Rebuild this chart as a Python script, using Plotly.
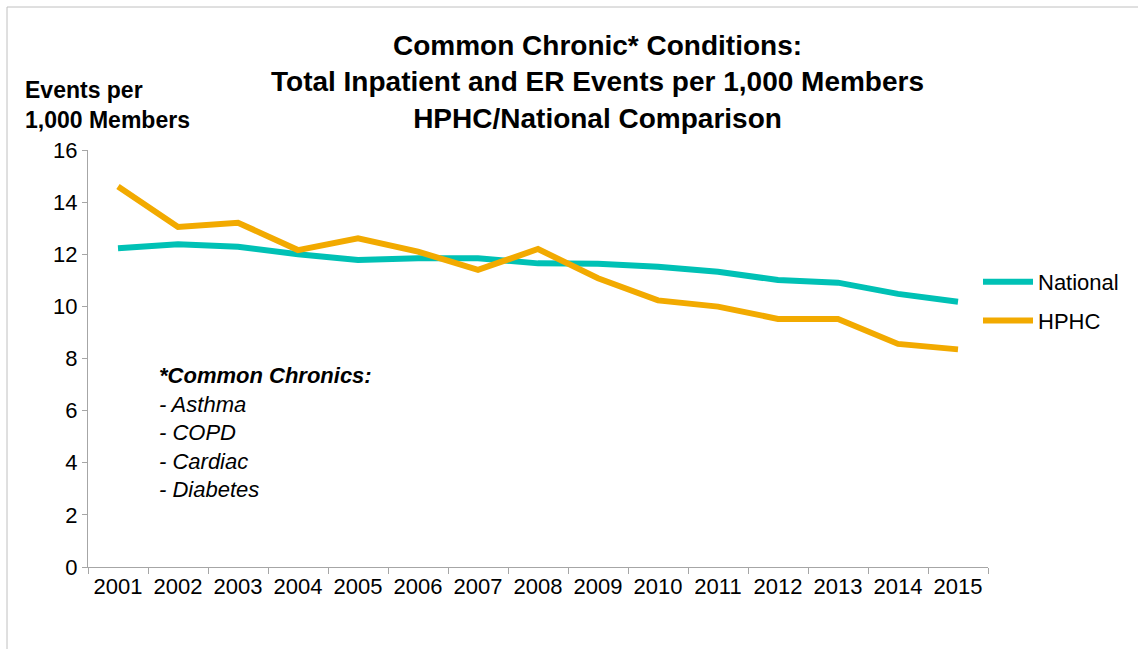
import plotly.graph_objects as go

years = [str(y) for y in range(2001, 2016)]
national = [12.23, 12.38, 12.29, 12.0, 11.78, 11.85, 11.85, 11.65, 11.64, 11.52, 11.33, 11.01, 10.91, 10.48, 10.18]
hphc = [14.6, 13.05, 13.21, 12.16, 12.61, 12.1, 11.4, 12.2, 11.08, 10.23, 9.99, 9.52, 9.52, 8.56, 8.35]

FONT = "Liberation Sans, Arial, sans-serif"
W, H = 1138, 649
ML, MR, MT, MB = 88, 150, 150, 82
PW, PH = W - ML - MR, H - MT - MB

def px(x):
    return (x - ML) / PW

def py(y):
    return (H - MB - y) / PH

fig = go.Figure()
fig.add_trace(go.Scatter(x=years, y=national, name="National", mode="lines", legendgroup="a",
                         line=dict(color="#00C1B5", width=6)))
fig.add_trace(go.Scatter(x=years, y=hphc, name="HPHC", mode="lines", legendgroup="b",
                         line=dict(color="#F2AA00", width=6)))

fig.update_layout(
    width=W, height=H,
    margin=dict(l=ML, r=MR, t=MT, b=MB),
    paper_bgcolor="white", plot_bgcolor="white",
    font=dict(family=FONT, color="black"),
    showlegend=True,
    legend=dict(x=px(978), xanchor="left", y=py(261), yanchor="top",
                font=dict(size=22, family=FONT, color="black"),
                traceorder="grouped", tracegroupgap=7,
                bgcolor="rgba(0,0,0,0)", itemwidth=50),
    xaxis=dict(type="category", range=[-0.5, 14.5], showgrid=False,
               showline=True, linecolor="#a6a6a6", linewidth=1,
               ticks="outside", tickson="boundaries", ticklen=6, tickcolor="#a6a6a6",
               tickfont=dict(size=22, family=FONT, color="black"), zeroline=False),
    yaxis=dict(range=[0, 16], dtick=2, showgrid=False, zeroline=False,
               showline=True, linecolor="#a6a6a6", linewidth=1,
               ticks="outside", ticklen=5, tickcolor="#a6a6a6",
               tickfont=dict(size=22, family=FONT, color="black")),
)

fig.add_annotation(text="<b>Common Chronic* Conditions:<br>Total Inpatient and ER Events per 1,000 Members<br>HPHC/National Comparison</b>",
                   xref="paper", yref="paper", x=px(597), y=py(28),
                   xanchor="center", yanchor="top", align="center",
                   showarrow=False, font=dict(size=28, family=FONT, color="black"))

fig.add_annotation(text="<b>Events per<br>1,000 Members</b>", xref="paper", yref="paper",
                   x=px(23), y=py(75), xanchor="left", yanchor="top", align="left",
                   showarrow=False, font=dict(size=23, family=FONT, color="black"))

fig.add_annotation(text="<b><i>*Common Chronics:</i></b><br><i>- Asthma</i><br><i>- COPD</i><br><i>- Cardiac</i><br><i>- Diabetes</i>",
                   xref="paper", yref="paper", x=px(157), y=py(361),
                   xanchor="left", yanchor="top", align="left",
                   showarrow=False, font=dict(size=22, family=FONT, color="black"))

fig.add_shape(type="rect", xref="paper", yref="paper",
              x0=px(7), x1=px(1150), y0=py(660), y1=py(7),
              line=dict(color="#c0c0c0", width=1), fillcolor="rgba(0,0,0,0)", layer="below")

fig.write_html("out.html")
